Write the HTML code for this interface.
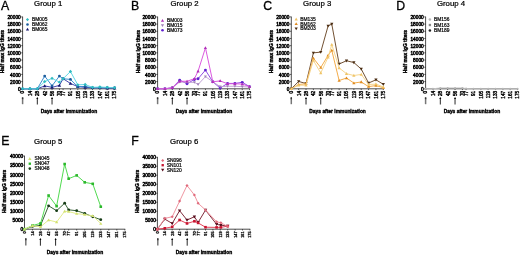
<!DOCTYPE html>
<html><head><meta charset="utf-8"><style>
html,body{margin:0;padding:0;background:#fff;width:520px;height:255px;overflow:hidden}
svg{display:block;will-change:transform}
text{font-family:"Liberation Sans", sans-serif}
</style></head><body>
<svg width="520" height="255" viewBox="0 0 520 255">
<rect width="520" height="255" fill="#fff"/>
<g>
<text x="0.9" y="10.2" font-size="12.3" font-weight="normal" text-anchor="start" fill="#000" stroke="#000" stroke-width="0.3">A</text>
<text x="34.1" y="5.8" font-size="7.8" font-weight="normal" text-anchor="start" fill="#000" stroke="#000" stroke-width="0.22">Group 1</text>
<text x="3.8" y="51.6" font-size="4.9" font-weight="bold" text-anchor="middle" fill="#000" transform="rotate(-90 3.8 51.6)" stroke="#000" stroke-width="0.38">Half max IgG titers</text>
<path d="M22.6 16.6V88.8H115" fill="none" stroke="#000" stroke-width="0.7"/>
<path d="M21.2 88.8H22.6" stroke="#000" stroke-width="0.6"/>
<text x="20.7" y="91" font-size="4.75" font-weight="normal" text-anchor="end" fill="#000" stroke="#000" stroke-width="0.46">0</text>
<path d="M21.2 81.61H22.6" stroke="#000" stroke-width="0.6"/>
<text x="20.7" y="83.81" font-size="4.75" font-weight="normal" text-anchor="end" fill="#000" stroke="#000" stroke-width="0.46">2000</text>
<path d="M21.2 74.42H22.6" stroke="#000" stroke-width="0.6"/>
<text x="20.7" y="76.62" font-size="4.75" font-weight="normal" text-anchor="end" fill="#000" stroke="#000" stroke-width="0.46">4000</text>
<path d="M21.2 67.23H22.6" stroke="#000" stroke-width="0.6"/>
<text x="20.7" y="69.43" font-size="4.75" font-weight="normal" text-anchor="end" fill="#000" stroke="#000" stroke-width="0.46">6000</text>
<path d="M21.2 60.04H22.6" stroke="#000" stroke-width="0.6"/>
<text x="20.7" y="62.24" font-size="4.75" font-weight="normal" text-anchor="end" fill="#000" stroke="#000" stroke-width="0.46">8000</text>
<path d="M21.2 52.85H22.6" stroke="#000" stroke-width="0.6"/>
<text x="20.7" y="55.05" font-size="4.75" font-weight="normal" text-anchor="end" fill="#000" stroke="#000" stroke-width="0.46">10000</text>
<path d="M21.2 45.66H22.6" stroke="#000" stroke-width="0.6"/>
<text x="20.7" y="47.86" font-size="4.75" font-weight="normal" text-anchor="end" fill="#000" stroke="#000" stroke-width="0.46">12000</text>
<path d="M21.2 38.47H22.6" stroke="#000" stroke-width="0.6"/>
<text x="20.7" y="40.67" font-size="4.75" font-weight="normal" text-anchor="end" fill="#000" stroke="#000" stroke-width="0.46">14000</text>
<path d="M21.2 31.28H22.6" stroke="#000" stroke-width="0.6"/>
<text x="20.7" y="33.48" font-size="4.75" font-weight="normal" text-anchor="end" fill="#000" stroke="#000" stroke-width="0.46">16000</text>
<path d="M21.2 24.09H22.6" stroke="#000" stroke-width="0.6"/>
<text x="20.7" y="26.29" font-size="4.75" font-weight="normal" text-anchor="end" fill="#000" stroke="#000" stroke-width="0.46">18000</text>
<path d="M21.2 16.9H22.6" stroke="#000" stroke-width="0.6"/>
<text x="20.7" y="19.1" font-size="4.75" font-weight="normal" text-anchor="end" fill="#000" stroke="#000" stroke-width="0.46">20000</text>
<path d="M22.6 88.8V90.1" stroke="#000" stroke-width="0.6"/>
<text x="24.5" y="90.8" font-size="4.7" font-weight="normal" text-anchor="end" fill="#000" transform="rotate(-90 24.5 90.8)" stroke="#000" stroke-width="0.38">0</text>
<path d="M29.96 88.8V90.1" stroke="#000" stroke-width="0.6"/>
<text x="31.86" y="90.8" font-size="4.7" font-weight="normal" text-anchor="end" fill="#000" transform="rotate(-90 31.86 90.8)" stroke="#000" stroke-width="0.38">14</text>
<path d="M37.32 88.8V90.1" stroke="#000" stroke-width="0.6"/>
<text x="39.22" y="90.8" font-size="4.7" font-weight="normal" text-anchor="end" fill="#000" transform="rotate(-90 39.22 90.8)" stroke="#000" stroke-width="0.38">28</text>
<path d="M44.68 88.8V90.1" stroke="#000" stroke-width="0.6"/>
<text x="46.58" y="90.8" font-size="4.7" font-weight="normal" text-anchor="end" fill="#000" transform="rotate(-90 46.58 90.8)" stroke="#000" stroke-width="0.38">42</text>
<path d="M52.04 88.8V90.1" stroke="#000" stroke-width="0.6"/>
<text x="53.94" y="90.8" font-size="4.7" font-weight="normal" text-anchor="end" fill="#000" transform="rotate(-90 53.94 90.8)" stroke="#000" stroke-width="0.38">56</text>
<path d="M59.4 88.8V90.1" stroke="#000" stroke-width="0.6"/>
<text x="61.3" y="90.8" font-size="4.7" font-weight="normal" text-anchor="end" fill="#000" transform="rotate(-90 61.3 90.8)" stroke="#000" stroke-width="0.38">70</text>
<path d="M63.08 88.8V90.1" stroke="#000" stroke-width="0.6"/>
<text x="64.98" y="90.8" font-size="4.7" font-weight="normal" text-anchor="end" fill="#000" transform="rotate(-90 64.98 90.8)" stroke="#000" stroke-width="0.38">77</text>
<path d="M70.44 88.8V90.1" stroke="#000" stroke-width="0.6"/>
<text x="72.34" y="90.8" font-size="4.7" font-weight="normal" text-anchor="end" fill="#000" transform="rotate(-90 72.34 90.8)" stroke="#000" stroke-width="0.38">91</text>
<path d="M77.8 88.8V90.1" stroke="#000" stroke-width="0.6"/>
<text x="79.7" y="90.8" font-size="4.7" font-weight="normal" text-anchor="end" fill="#000" transform="rotate(-90 79.7 90.8)" stroke="#000" stroke-width="0.38">105</text>
<path d="M85.16 88.8V90.1" stroke="#000" stroke-width="0.6"/>
<text x="87.06" y="90.8" font-size="4.7" font-weight="normal" text-anchor="end" fill="#000" transform="rotate(-90 87.06 90.8)" stroke="#000" stroke-width="0.38">119</text>
<path d="M92.52 88.8V90.1" stroke="#000" stroke-width="0.6"/>
<text x="94.42" y="90.8" font-size="4.7" font-weight="normal" text-anchor="end" fill="#000" transform="rotate(-90 94.42 90.8)" stroke="#000" stroke-width="0.38">133</text>
<path d="M99.88 88.8V90.1" stroke="#000" stroke-width="0.6"/>
<text x="101.78" y="90.8" font-size="4.7" font-weight="normal" text-anchor="end" fill="#000" transform="rotate(-90 101.78 90.8)" stroke="#000" stroke-width="0.38">147</text>
<path d="M107.24 88.8V90.1" stroke="#000" stroke-width="0.6"/>
<text x="109.14" y="90.8" font-size="4.7" font-weight="normal" text-anchor="end" fill="#000" transform="rotate(-90 109.14 90.8)" stroke="#000" stroke-width="0.38">161</text>
<path d="M114.6 88.8V90.1" stroke="#000" stroke-width="0.6"/>
<text x="116.5" y="90.8" font-size="4.7" font-weight="normal" text-anchor="end" fill="#000" transform="rotate(-90 116.5 90.8)" stroke="#000" stroke-width="0.38">175</text>
<path d="M22.6 97.6V104.2" stroke="#777" stroke-width="1.5"/>
<path d="M22.6 97.3V99.2" stroke="#333" stroke-width="1.4"/>
<path d="M37.32 97.8V104.5" stroke="#000" stroke-width="0.85"/>
<path d="M36.32 99L37.32 97L38.32 99Z" fill="#000"/>
<path d="M52.04 97.8V104.5" stroke="#000" stroke-width="0.85"/>
<path d="M51.04 99L52.04 97L53.04 99Z" fill="#000"/>
<text x="68.9" y="113.1" font-size="4.9" font-weight="bold" text-anchor="middle" fill="#000" stroke="#000" stroke-width="0.34">Days after immunization</text>
<path d="M22.6 88.8 L29.96 88.8 L37.32 88.8 L44.68 85.92 L52.04 87.36 L59.4 85.38 L63.08 78.73 L70.44 83.41 L77.8 86.64 L85.16 87.36 L92.52 87.72 L99.88 87.72 L107.24 88.08 L114.6 88.08" fill="none" stroke="#3a3aa8" stroke-width="0.95" stroke-linejoin="round"/>
<path d="M22.6 87.05L24.35 90.11L20.85 90.11Z" fill="#161670"/>
<path d="M29.96 87.05L31.71 90.11L28.21 90.11Z" fill="#161670"/>
<path d="M37.32 87.05L39.07 90.11L35.57 90.11Z" fill="#161670"/>
<path d="M44.68 84.17L46.43 87.24L42.93 87.24Z" fill="#161670"/>
<path d="M52.04 85.61L53.79 88.67L50.29 88.67Z" fill="#161670"/>
<path d="M59.4 83.63L61.15 86.7L57.65 86.7Z" fill="#161670"/>
<path d="M63.08 76.98L64.83 80.05L61.33 80.05Z" fill="#161670"/>
<path d="M70.44 81.66L72.19 84.72L68.69 84.72Z" fill="#161670"/>
<path d="M77.8 84.89L79.55 87.96L76.05 87.96Z" fill="#161670"/>
<path d="M85.16 85.61L86.91 88.67L83.41 88.67Z" fill="#161670"/>
<path d="M92.52 85.97L94.27 89.03L90.77 89.03Z" fill="#161670"/>
<path d="M99.88 85.97L101.63 89.03L98.13 89.03Z" fill="#161670"/>
<path d="M107.24 86.33L108.99 89.39L105.49 89.39Z" fill="#161670"/>
<path d="M114.6 86.33L116.35 89.39L112.85 89.39Z" fill="#161670"/>
<path d="M22.6 88.8 L29.96 88.8 L37.32 88.8 L44.68 76.04 L52.04 85.92 L59.4 76.04 L63.08 78.73 L70.44 79.45 L77.8 86.64 L85.16 86.46 L92.52 87.72 L99.88 87.72 L107.24 87.72 L114.6 87.72" fill="none" stroke="#3388cc" stroke-width="0.95" stroke-linejoin="round"/>
<circle cx="22.6" cy="88.8" r="1.4" fill="#1c5c9c"/>
<circle cx="29.96" cy="88.8" r="1.4" fill="#1c5c9c"/>
<circle cx="37.32" cy="88.8" r="1.4" fill="#1c5c9c"/>
<circle cx="44.68" cy="76.04" r="1.4" fill="#1c5c9c"/>
<circle cx="52.04" cy="85.92" r="1.4" fill="#1c5c9c"/>
<circle cx="59.4" cy="76.04" r="1.4" fill="#1c5c9c"/>
<circle cx="63.08" cy="78.73" r="1.4" fill="#1c5c9c"/>
<circle cx="70.44" cy="79.45" r="1.4" fill="#1c5c9c"/>
<circle cx="77.8" cy="86.64" r="1.4" fill="#1c5c9c"/>
<circle cx="85.16" cy="86.46" r="1.4" fill="#1c5c9c"/>
<circle cx="92.52" cy="87.72" r="1.4" fill="#1c5c9c"/>
<circle cx="99.88" cy="87.72" r="1.4" fill="#1c5c9c"/>
<circle cx="107.24" cy="87.72" r="1.4" fill="#1c5c9c"/>
<circle cx="114.6" cy="87.72" r="1.4" fill="#1c5c9c"/>
<path d="M22.6 88.8 L29.96 88.8 L37.32 88.8 L44.68 81.61 L52.04 78.37 L59.4 82.15 L63.08 78.73 L70.44 71.54 L77.8 84.85 L85.16 84.49 L92.52 87.36 L99.88 87 L107.24 87.36 L114.6 87.72" fill="none" stroke="#5cd6e4" stroke-width="0.95" stroke-linejoin="round"/>
<path d="M22.6 87.12L24.28 88.8L22.6 90.48L20.92 88.8Z" fill="#30bcc0"/>
<path d="M29.96 87.12L31.64 88.8L29.96 90.48L28.28 88.8Z" fill="#30bcc0"/>
<path d="M37.32 87.12L39 88.8L37.32 90.48L35.64 88.8Z" fill="#30bcc0"/>
<path d="M44.68 79.93L46.36 81.61L44.68 83.29L43 81.61Z" fill="#30bcc0"/>
<path d="M52.04 76.69L53.72 78.37L52.04 80.05L50.36 78.37Z" fill="#30bcc0"/>
<path d="M59.4 80.47L61.08 82.15L59.4 83.83L57.72 82.15Z" fill="#30bcc0"/>
<path d="M63.08 77.05L64.76 78.73L63.08 80.41L61.4 78.73Z" fill="#30bcc0"/>
<path d="M70.44 69.86L72.12 71.54L70.44 73.22L68.76 71.54Z" fill="#30bcc0"/>
<path d="M77.8 83.17L79.48 84.85L77.8 86.53L76.12 84.85Z" fill="#30bcc0"/>
<path d="M85.16 82.81L86.84 84.49L85.16 86.17L83.48 84.49Z" fill="#30bcc0"/>
<path d="M92.52 85.68L94.2 87.36L92.52 89.04L90.84 87.36Z" fill="#30bcc0"/>
<path d="M99.88 85.32L101.56 87L99.88 88.68L98.2 87Z" fill="#30bcc0"/>
<path d="M107.24 85.68L108.92 87.36L107.24 89.04L105.56 87.36Z" fill="#30bcc0"/>
<path d="M114.6 86.04L116.28 87.72L114.6 89.4L112.92 87.72Z" fill="#30bcc0"/>
<path d="M27.5 18.04L29.06 19.6L27.5 21.16L25.94 19.6Z" fill="#30bcc0"/>
<text x="31.9" y="21.35" font-size="4.9" font-weight="normal" text-anchor="start" fill="#000" stroke="#111" stroke-width="0.22">BM005</text>
<circle cx="27.5" cy="24.5" r="1.3" fill="#1c5c9c"/>
<text x="31.9" y="26.25" font-size="4.9" font-weight="normal" text-anchor="start" fill="#000" stroke="#111" stroke-width="0.22">BM062</text>
<path d="M27.5 27.68L29.12 30.52L25.88 30.52Z" fill="#161670"/>
<text x="31.9" y="31.05" font-size="4.9" font-weight="normal" text-anchor="start" fill="#000" stroke="#111" stroke-width="0.22">BM065</text>
</g>
<g>
<text x="130.9" y="10.2" font-size="12.3" font-weight="normal" text-anchor="start" fill="#000" stroke="#000" stroke-width="0.3">B</text>
<text x="170.4" y="5.8" font-size="7.8" font-weight="normal" text-anchor="start" fill="#000" stroke="#000" stroke-width="0.22">Group 2</text>
<text x="139.8" y="51.6" font-size="4.9" font-weight="bold" text-anchor="middle" fill="#000" transform="rotate(-90 139.8 51.6)" stroke="#000" stroke-width="0.38">Half max IgG titers</text>
<path d="M157.6 16.6V88.8H250" fill="none" stroke="#000" stroke-width="0.7"/>
<path d="M156.2 88.8H157.6" stroke="#000" stroke-width="0.6"/>
<text x="155.7" y="91" font-size="4.75" font-weight="normal" text-anchor="end" fill="#000" stroke="#000" stroke-width="0.46">0</text>
<path d="M156.2 81.61H157.6" stroke="#000" stroke-width="0.6"/>
<text x="155.7" y="83.81" font-size="4.75" font-weight="normal" text-anchor="end" fill="#000" stroke="#000" stroke-width="0.46">2000</text>
<path d="M156.2 74.42H157.6" stroke="#000" stroke-width="0.6"/>
<text x="155.7" y="76.62" font-size="4.75" font-weight="normal" text-anchor="end" fill="#000" stroke="#000" stroke-width="0.46">4000</text>
<path d="M156.2 67.23H157.6" stroke="#000" stroke-width="0.6"/>
<text x="155.7" y="69.43" font-size="4.75" font-weight="normal" text-anchor="end" fill="#000" stroke="#000" stroke-width="0.46">6000</text>
<path d="M156.2 60.04H157.6" stroke="#000" stroke-width="0.6"/>
<text x="155.7" y="62.24" font-size="4.75" font-weight="normal" text-anchor="end" fill="#000" stroke="#000" stroke-width="0.46">8000</text>
<path d="M156.2 52.85H157.6" stroke="#000" stroke-width="0.6"/>
<text x="155.7" y="55.05" font-size="4.75" font-weight="normal" text-anchor="end" fill="#000" stroke="#000" stroke-width="0.46">10000</text>
<path d="M156.2 45.66H157.6" stroke="#000" stroke-width="0.6"/>
<text x="155.7" y="47.86" font-size="4.75" font-weight="normal" text-anchor="end" fill="#000" stroke="#000" stroke-width="0.46">12000</text>
<path d="M156.2 38.47H157.6" stroke="#000" stroke-width="0.6"/>
<text x="155.7" y="40.67" font-size="4.75" font-weight="normal" text-anchor="end" fill="#000" stroke="#000" stroke-width="0.46">14000</text>
<path d="M156.2 31.28H157.6" stroke="#000" stroke-width="0.6"/>
<text x="155.7" y="33.48" font-size="4.75" font-weight="normal" text-anchor="end" fill="#000" stroke="#000" stroke-width="0.46">16000</text>
<path d="M156.2 24.09H157.6" stroke="#000" stroke-width="0.6"/>
<text x="155.7" y="26.29" font-size="4.75" font-weight="normal" text-anchor="end" fill="#000" stroke="#000" stroke-width="0.46">18000</text>
<path d="M156.2 16.9H157.6" stroke="#000" stroke-width="0.6"/>
<text x="155.7" y="19.1" font-size="4.75" font-weight="normal" text-anchor="end" fill="#000" stroke="#000" stroke-width="0.46">20000</text>
<path d="M157.6 88.8V90.1" stroke="#000" stroke-width="0.6"/>
<text x="159.5" y="90.8" font-size="4.7" font-weight="normal" text-anchor="end" fill="#000" transform="rotate(-90 159.5 90.8)" stroke="#000" stroke-width="0.38">0</text>
<path d="M164.96 88.8V90.1" stroke="#000" stroke-width="0.6"/>
<text x="166.86" y="90.8" font-size="4.7" font-weight="normal" text-anchor="end" fill="#000" transform="rotate(-90 166.86 90.8)" stroke="#000" stroke-width="0.38">14</text>
<path d="M172.32 88.8V90.1" stroke="#000" stroke-width="0.6"/>
<text x="174.22" y="90.8" font-size="4.7" font-weight="normal" text-anchor="end" fill="#000" transform="rotate(-90 174.22 90.8)" stroke="#000" stroke-width="0.38">28</text>
<path d="M179.68 88.8V90.1" stroke="#000" stroke-width="0.6"/>
<text x="181.58" y="90.8" font-size="4.7" font-weight="normal" text-anchor="end" fill="#000" transform="rotate(-90 181.58 90.8)" stroke="#000" stroke-width="0.38">42</text>
<path d="M187.04 88.8V90.1" stroke="#000" stroke-width="0.6"/>
<text x="188.94" y="90.8" font-size="4.7" font-weight="normal" text-anchor="end" fill="#000" transform="rotate(-90 188.94 90.8)" stroke="#000" stroke-width="0.38">56</text>
<path d="M194.4 88.8V90.1" stroke="#000" stroke-width="0.6"/>
<text x="196.3" y="90.8" font-size="4.7" font-weight="normal" text-anchor="end" fill="#000" transform="rotate(-90 196.3 90.8)" stroke="#000" stroke-width="0.38">70</text>
<path d="M198.08 88.8V90.1" stroke="#000" stroke-width="0.6"/>
<text x="199.98" y="90.8" font-size="4.7" font-weight="normal" text-anchor="end" fill="#000" transform="rotate(-90 199.98 90.8)" stroke="#000" stroke-width="0.38">77</text>
<path d="M205.44 88.8V90.1" stroke="#000" stroke-width="0.6"/>
<text x="207.34" y="90.8" font-size="4.7" font-weight="normal" text-anchor="end" fill="#000" transform="rotate(-90 207.34 90.8)" stroke="#000" stroke-width="0.38">91</text>
<path d="M212.8 88.8V90.1" stroke="#000" stroke-width="0.6"/>
<text x="214.7" y="90.8" font-size="4.7" font-weight="normal" text-anchor="end" fill="#000" transform="rotate(-90 214.7 90.8)" stroke="#000" stroke-width="0.38">105</text>
<path d="M220.16 88.8V90.1" stroke="#000" stroke-width="0.6"/>
<text x="222.06" y="90.8" font-size="4.7" font-weight="normal" text-anchor="end" fill="#000" transform="rotate(-90 222.06 90.8)" stroke="#000" stroke-width="0.38">119</text>
<path d="M227.52 88.8V90.1" stroke="#000" stroke-width="0.6"/>
<text x="229.42" y="90.8" font-size="4.7" font-weight="normal" text-anchor="end" fill="#000" transform="rotate(-90 229.42 90.8)" stroke="#000" stroke-width="0.38">133</text>
<path d="M234.88 88.8V90.1" stroke="#000" stroke-width="0.6"/>
<text x="236.78" y="90.8" font-size="4.7" font-weight="normal" text-anchor="end" fill="#000" transform="rotate(-90 236.78 90.8)" stroke="#000" stroke-width="0.38">147</text>
<path d="M242.24 88.8V90.1" stroke="#000" stroke-width="0.6"/>
<text x="244.14" y="90.8" font-size="4.7" font-weight="normal" text-anchor="end" fill="#000" transform="rotate(-90 244.14 90.8)" stroke="#000" stroke-width="0.38">161</text>
<path d="M249.6 88.8V90.1" stroke="#000" stroke-width="0.6"/>
<text x="251.5" y="90.8" font-size="4.7" font-weight="normal" text-anchor="end" fill="#000" transform="rotate(-90 251.5 90.8)" stroke="#000" stroke-width="0.38">175</text>
<path d="M157.6 97.6V104.2" stroke="#777" stroke-width="1.5"/>
<path d="M157.6 97.3V99.2" stroke="#333" stroke-width="1.4"/>
<path d="M172.32 97.8V104.5" stroke="#000" stroke-width="0.85"/>
<path d="M171.32 99L172.32 97L173.32 99Z" fill="#000"/>
<path d="M187.04 97.8V104.5" stroke="#000" stroke-width="0.85"/>
<path d="M186.04 99L187.04 97L188.04 99Z" fill="#000"/>
<text x="203.9" y="113.1" font-size="4.9" font-weight="bold" text-anchor="middle" fill="#000" stroke="#000" stroke-width="0.34">Days after immunization</text>
<path d="M157.6 88.8 L164.96 88.8 L172.32 87.72 L179.68 80.17 L187.04 83.77 L194.4 79.45 L198.08 78.73 L205.44 70.11 L212.8 81.79 L220.16 88.08 L227.52 83.41 L234.88 83.41 L242.24 82.33 L249.6 86.64" fill="none" stroke="#8a44e0" stroke-width="0.95" stroke-linejoin="round"/>
<circle cx="157.6" cy="88.8" r="1.45" fill="#6020d0"/>
<circle cx="164.96" cy="88.8" r="1.45" fill="#6020d0"/>
<circle cx="172.32" cy="87.72" r="1.45" fill="#6020d0"/>
<circle cx="179.68" cy="80.17" r="1.45" fill="#6020d0"/>
<circle cx="187.04" cy="83.77" r="1.45" fill="#6020d0"/>
<circle cx="194.4" cy="79.45" r="1.45" fill="#6020d0"/>
<circle cx="198.08" cy="78.73" r="1.45" fill="#6020d0"/>
<circle cx="205.44" cy="70.11" r="1.45" fill="#6020d0"/>
<circle cx="212.8" cy="81.79" r="1.45" fill="#6020d0"/>
<circle cx="220.16" cy="88.08" r="1.45" fill="#6020d0"/>
<circle cx="227.52" cy="83.41" r="1.45" fill="#6020d0"/>
<circle cx="234.88" cy="83.41" r="1.45" fill="#6020d0"/>
<circle cx="242.24" cy="82.33" r="1.45" fill="#6020d0"/>
<circle cx="249.6" cy="86.64" r="1.45" fill="#6020d0"/>
<path d="M157.6 88.8 L164.96 88.8 L172.32 87.72 L179.68 81.97 L187.04 82.33 L194.4 82.33 L198.08 84.49 L205.44 76.58 L212.8 81.79 L220.16 86.64 L227.52 86.28 L234.88 86.28 L242.24 86.64 L249.6 87" fill="none" stroke="#c0a0d4" stroke-width="0.95" stroke-linejoin="round"/>
<path d="M157.6 90.3L159.1 87.67L156.1 87.67Z" fill="#a080b8"/>
<path d="M164.96 90.3L166.46 87.67L163.46 87.67Z" fill="#a080b8"/>
<path d="M172.32 89.22L173.82 86.6L170.82 86.6Z" fill="#a080b8"/>
<path d="M179.68 83.47L181.18 80.84L178.18 80.84Z" fill="#a080b8"/>
<path d="M187.04 83.83L188.54 81.2L185.54 81.2Z" fill="#a080b8"/>
<path d="M194.4 83.83L195.9 81.2L192.9 81.2Z" fill="#a080b8"/>
<path d="M198.08 85.99L199.58 83.36L196.58 83.36Z" fill="#a080b8"/>
<path d="M205.44 78.08L206.94 75.45L203.94 75.45Z" fill="#a080b8"/>
<path d="M212.8 83.29L214.3 80.66L211.3 80.66Z" fill="#a080b8"/>
<path d="M220.16 88.14L221.66 85.52L218.66 85.52Z" fill="#a080b8"/>
<path d="M227.52 87.78L229.02 85.16L226.02 85.16Z" fill="#a080b8"/>
<path d="M234.88 87.78L236.38 85.16L233.38 85.16Z" fill="#a080b8"/>
<path d="M242.24 88.14L243.74 85.52L240.74 85.52Z" fill="#a080b8"/>
<path d="M249.6 88.5L251.1 85.88L248.1 85.88Z" fill="#a080b8"/>
<path d="M157.6 88.8 L164.96 88.8 L172.32 87.72 L179.68 81.25 L187.04 81.25 L194.4 78.73 L198.08 71.18 L205.44 47.82 L212.8 81.79 L220.16 80.89 L227.52 83.77 L234.88 83.77 L242.24 84.13 L249.6 86.64" fill="none" stroke="#d850dc" stroke-width="0.95" stroke-linejoin="round"/>
<path d="M157.6 87.17L159.22 90.02L155.97 90.02Z" fill="#b030b8"/>
<path d="M164.96 87.17L166.58 90.02L163.33 90.02Z" fill="#b030b8"/>
<path d="M172.32 86.1L173.94 88.94L170.69 88.94Z" fill="#b030b8"/>
<path d="M179.68 79.63L181.3 82.47L178.05 82.47Z" fill="#b030b8"/>
<path d="M187.04 79.63L188.66 82.47L185.41 82.47Z" fill="#b030b8"/>
<path d="M194.4 77.11L196.02 79.95L192.77 79.95Z" fill="#b030b8"/>
<path d="M198.08 69.56L199.7 72.4L196.45 72.4Z" fill="#b030b8"/>
<path d="M205.44 46.19L207.06 49.04L203.81 49.04Z" fill="#b030b8"/>
<path d="M212.8 80.16L214.42 83.01L211.17 83.01Z" fill="#b030b8"/>
<path d="M220.16 79.27L221.78 82.11L218.53 82.11Z" fill="#b030b8"/>
<path d="M227.52 82.14L229.14 84.99L225.89 84.99Z" fill="#b030b8"/>
<path d="M234.88 82.14L236.5 84.99L233.25 84.99Z" fill="#b030b8"/>
<path d="M242.24 82.5L243.86 85.35L240.61 85.35Z" fill="#b030b8"/>
<path d="M249.6 85.02L251.22 87.86L247.97 87.86Z" fill="#b030b8"/>
<path d="M162.5 18.98L164.12 21.82L160.88 21.82Z" fill="#b030b8"/>
<text x="166.9" y="22.35" font-size="4.9" font-weight="normal" text-anchor="start" fill="#000" stroke="#111" stroke-width="0.22">BM003</text>
<path d="M162.5 27.12L164.12 24.28L160.88 24.28Z" fill="#a080b8"/>
<text x="166.9" y="27.25" font-size="4.9" font-weight="normal" text-anchor="start" fill="#000" stroke="#111" stroke-width="0.22">BM015</text>
<circle cx="162.5" cy="30.2" r="1.3" fill="#6020d0"/>
<text x="166.9" y="31.95" font-size="4.9" font-weight="normal" text-anchor="start" fill="#000" stroke="#111" stroke-width="0.22">BM073</text>
</g>
<g>
<text x="263.3" y="10.2" font-size="12.3" font-weight="normal" text-anchor="start" fill="#000" stroke="#000" stroke-width="0.3">C</text>
<text x="303.1" y="5.8" font-size="7.8" font-weight="normal" text-anchor="start" fill="#000" stroke="#000" stroke-width="0.22">Group 3</text>
<text x="272.8" y="51.6" font-size="4.9" font-weight="bold" text-anchor="middle" fill="#000" transform="rotate(-90 272.8 51.6)" stroke="#000" stroke-width="0.38">Half max IgG titers</text>
<path d="M291.3 16.6V88.8H383.7" fill="none" stroke="#000" stroke-width="0.7"/>
<path d="M289.9 88.8H291.3" stroke="#000" stroke-width="0.6"/>
<text x="289.4" y="91" font-size="4.75" font-weight="normal" text-anchor="end" fill="#000" stroke="#000" stroke-width="0.46">0</text>
<path d="M289.9 81.61H291.3" stroke="#000" stroke-width="0.6"/>
<text x="289.4" y="83.81" font-size="4.75" font-weight="normal" text-anchor="end" fill="#000" stroke="#000" stroke-width="0.46">2000</text>
<path d="M289.9 74.42H291.3" stroke="#000" stroke-width="0.6"/>
<text x="289.4" y="76.62" font-size="4.75" font-weight="normal" text-anchor="end" fill="#000" stroke="#000" stroke-width="0.46">4000</text>
<path d="M289.9 67.23H291.3" stroke="#000" stroke-width="0.6"/>
<text x="289.4" y="69.43" font-size="4.75" font-weight="normal" text-anchor="end" fill="#000" stroke="#000" stroke-width="0.46">6000</text>
<path d="M289.9 60.04H291.3" stroke="#000" stroke-width="0.6"/>
<text x="289.4" y="62.24" font-size="4.75" font-weight="normal" text-anchor="end" fill="#000" stroke="#000" stroke-width="0.46">8000</text>
<path d="M289.9 52.85H291.3" stroke="#000" stroke-width="0.6"/>
<text x="289.4" y="55.05" font-size="4.75" font-weight="normal" text-anchor="end" fill="#000" stroke="#000" stroke-width="0.46">10000</text>
<path d="M289.9 45.66H291.3" stroke="#000" stroke-width="0.6"/>
<text x="289.4" y="47.86" font-size="4.75" font-weight="normal" text-anchor="end" fill="#000" stroke="#000" stroke-width="0.46">12000</text>
<path d="M289.9 38.47H291.3" stroke="#000" stroke-width="0.6"/>
<text x="289.4" y="40.67" font-size="4.75" font-weight="normal" text-anchor="end" fill="#000" stroke="#000" stroke-width="0.46">14000</text>
<path d="M289.9 31.28H291.3" stroke="#000" stroke-width="0.6"/>
<text x="289.4" y="33.48" font-size="4.75" font-weight="normal" text-anchor="end" fill="#000" stroke="#000" stroke-width="0.46">16000</text>
<path d="M289.9 24.09H291.3" stroke="#000" stroke-width="0.6"/>
<text x="289.4" y="26.29" font-size="4.75" font-weight="normal" text-anchor="end" fill="#000" stroke="#000" stroke-width="0.46">18000</text>
<path d="M289.9 16.9H291.3" stroke="#000" stroke-width="0.6"/>
<text x="289.4" y="19.1" font-size="4.75" font-weight="normal" text-anchor="end" fill="#000" stroke="#000" stroke-width="0.46">20000</text>
<path d="M291.3 88.8V90.1" stroke="#000" stroke-width="0.6"/>
<text x="293.2" y="90.8" font-size="4.7" font-weight="normal" text-anchor="end" fill="#000" transform="rotate(-90 293.2 90.8)" stroke="#000" stroke-width="0.38">0</text>
<path d="M298.66 88.8V90.1" stroke="#000" stroke-width="0.6"/>
<text x="300.56" y="90.8" font-size="4.7" font-weight="normal" text-anchor="end" fill="#000" transform="rotate(-90 300.56 90.8)" stroke="#000" stroke-width="0.38">14</text>
<path d="M306.02 88.8V90.1" stroke="#000" stroke-width="0.6"/>
<text x="307.92" y="90.8" font-size="4.7" font-weight="normal" text-anchor="end" fill="#000" transform="rotate(-90 307.92 90.8)" stroke="#000" stroke-width="0.38">28</text>
<path d="M313.38 88.8V90.1" stroke="#000" stroke-width="0.6"/>
<text x="315.28" y="90.8" font-size="4.7" font-weight="normal" text-anchor="end" fill="#000" transform="rotate(-90 315.28 90.8)" stroke="#000" stroke-width="0.38">42</text>
<path d="M320.74 88.8V90.1" stroke="#000" stroke-width="0.6"/>
<text x="322.64" y="90.8" font-size="4.7" font-weight="normal" text-anchor="end" fill="#000" transform="rotate(-90 322.64 90.8)" stroke="#000" stroke-width="0.38">56</text>
<path d="M328.1 88.8V90.1" stroke="#000" stroke-width="0.6"/>
<text x="330" y="90.8" font-size="4.7" font-weight="normal" text-anchor="end" fill="#000" transform="rotate(-90 330 90.8)" stroke="#000" stroke-width="0.38">70</text>
<path d="M331.78 88.8V90.1" stroke="#000" stroke-width="0.6"/>
<text x="333.68" y="90.8" font-size="4.7" font-weight="normal" text-anchor="end" fill="#000" transform="rotate(-90 333.68 90.8)" stroke="#000" stroke-width="0.38">77</text>
<path d="M339.14 88.8V90.1" stroke="#000" stroke-width="0.6"/>
<text x="341.04" y="90.8" font-size="4.7" font-weight="normal" text-anchor="end" fill="#000" transform="rotate(-90 341.04 90.8)" stroke="#000" stroke-width="0.38">91</text>
<path d="M346.5 88.8V90.1" stroke="#000" stroke-width="0.6"/>
<text x="348.4" y="90.8" font-size="4.7" font-weight="normal" text-anchor="end" fill="#000" transform="rotate(-90 348.4 90.8)" stroke="#000" stroke-width="0.38">105</text>
<path d="M353.86 88.8V90.1" stroke="#000" stroke-width="0.6"/>
<text x="355.76" y="90.8" font-size="4.7" font-weight="normal" text-anchor="end" fill="#000" transform="rotate(-90 355.76 90.8)" stroke="#000" stroke-width="0.38">119</text>
<path d="M361.22 88.8V90.1" stroke="#000" stroke-width="0.6"/>
<text x="363.12" y="90.8" font-size="4.7" font-weight="normal" text-anchor="end" fill="#000" transform="rotate(-90 363.12 90.8)" stroke="#000" stroke-width="0.38">133</text>
<path d="M368.58 88.8V90.1" stroke="#000" stroke-width="0.6"/>
<text x="370.48" y="90.8" font-size="4.7" font-weight="normal" text-anchor="end" fill="#000" transform="rotate(-90 370.48 90.8)" stroke="#000" stroke-width="0.38">147</text>
<path d="M375.94 88.8V90.1" stroke="#000" stroke-width="0.6"/>
<text x="377.84" y="90.8" font-size="4.7" font-weight="normal" text-anchor="end" fill="#000" transform="rotate(-90 377.84 90.8)" stroke="#000" stroke-width="0.38">161</text>
<path d="M383.3 88.8V90.1" stroke="#000" stroke-width="0.6"/>
<text x="385.2" y="90.8" font-size="4.7" font-weight="normal" text-anchor="end" fill="#000" transform="rotate(-90 385.2 90.8)" stroke="#000" stroke-width="0.38">175</text>
<path d="M291.3 97.6V104.2" stroke="#777" stroke-width="1.5"/>
<path d="M291.3 97.3V99.2" stroke="#333" stroke-width="1.4"/>
<path d="M306.02 97.8V104.5" stroke="#000" stroke-width="0.85"/>
<path d="M305.02 99L306.02 97L307.02 99Z" fill="#000"/>
<path d="M320.74 97.8V104.5" stroke="#000" stroke-width="0.85"/>
<path d="M319.74 99L320.74 97L321.74 99Z" fill="#000"/>
<text x="337.6" y="113.1" font-size="4.9" font-weight="bold" text-anchor="middle" fill="#000" stroke="#000" stroke-width="0.34">Days after immunization</text>
<path d="M291.3 88.8 L298.66 81.43 L306.02 83.59 L313.38 52.85 L320.74 52.13 L328.1 25.89 L331.78 24.09 L339.14 63.99 L346.5 60.76 L353.86 62.56 L361.22 69.03 L368.58 83.05 L375.94 79.81 L383.3 84.31" fill="none" stroke="#6a4828" stroke-width="0.95" stroke-linejoin="round"/>
<path d="M291.3 90.42L292.93 87.58L289.68 87.58Z" fill="#4a2c12"/>
<path d="M298.66 83.06L300.28 80.21L297.03 80.21Z" fill="#4a2c12"/>
<path d="M306.02 85.21L307.64 82.37L304.39 82.37Z" fill="#4a2c12"/>
<path d="M313.38 54.47L315 51.63L311.75 51.63Z" fill="#4a2c12"/>
<path d="M320.74 53.76L322.36 50.91L319.11 50.91Z" fill="#4a2c12"/>
<path d="M328.1 27.51L329.72 24.67L326.47 24.67Z" fill="#4a2c12"/>
<path d="M331.78 25.71L333.4 22.87L330.15 22.87Z" fill="#4a2c12"/>
<path d="M339.14 65.62L340.76 62.78L337.51 62.78Z" fill="#4a2c12"/>
<path d="M346.5 62.38L348.12 59.54L344.87 59.54Z" fill="#4a2c12"/>
<path d="M353.86 64.18L355.48 61.34L352.23 61.34Z" fill="#4a2c12"/>
<path d="M361.22 70.65L362.84 67.81L359.59 67.81Z" fill="#4a2c12"/>
<path d="M368.58 84.67L370.2 81.83L366.95 81.83Z" fill="#4a2c12"/>
<path d="M375.94 81.44L377.56 78.59L374.31 78.59Z" fill="#4a2c12"/>
<path d="M383.3 85.93L384.92 83.09L381.67 83.09Z" fill="#4a2c12"/>
<path d="M291.3 88.8 L298.66 84.49 L306.02 83.77 L313.38 58.24 L320.74 67.59 L328.1 55.37 L331.78 50.33 L339.14 80.53 L346.5 78.02 L353.86 83.05 L361.22 81.97 L368.58 86.64 L375.94 85.56 L383.3 87.72" fill="none" stroke="#f2a840" stroke-width="0.95" stroke-linejoin="round"/>
<path d="M291.3 87.17L292.93 90.02L289.68 90.02Z" fill="#e08c20"/>
<path d="M298.66 82.86L300.28 85.7L297.03 85.7Z" fill="#e08c20"/>
<path d="M306.02 82.14L307.64 84.99L304.39 84.99Z" fill="#e08c20"/>
<path d="M313.38 56.62L315 59.46L311.75 59.46Z" fill="#e08c20"/>
<path d="M320.74 65.96L322.36 68.81L319.11 68.81Z" fill="#e08c20"/>
<path d="M328.1 53.74L329.72 56.59L326.47 56.59Z" fill="#e08c20"/>
<path d="M331.78 48.71L333.4 51.55L330.15 51.55Z" fill="#e08c20"/>
<path d="M339.14 78.91L340.76 81.75L337.51 81.75Z" fill="#e08c20"/>
<path d="M346.5 76.39L348.12 79.23L344.87 79.23Z" fill="#e08c20"/>
<path d="M353.86 81.42L355.48 84.27L352.23 84.27Z" fill="#e08c20"/>
<path d="M361.22 80.34L362.84 83.19L359.59 83.19Z" fill="#e08c20"/>
<path d="M368.58 85.02L370.2 87.86L366.95 87.86Z" fill="#e08c20"/>
<path d="M375.94 83.94L377.56 86.78L374.31 86.78Z" fill="#e08c20"/>
<path d="M383.3 86.1L384.92 88.94L381.67 88.94Z" fill="#e08c20"/>
<path d="M291.3 88.8 L298.66 85.2 L306.02 85.2 L313.38 60.4 L320.74 72.98 L328.1 57.16 L331.78 44.58 L339.14 67.95 L346.5 73.7 L353.86 75.5 L361.22 74.42 L368.58 84.49 L375.94 84.13 L383.3 87" fill="none" stroke="#f5d488" stroke-width="0.95" stroke-linejoin="round"/>
<path d="M291.3 87.17L292.93 90.02L289.68 90.02Z" fill="#efc468"/>
<path d="M298.66 83.58L300.28 86.42L297.03 86.42Z" fill="#efc468"/>
<path d="M306.02 83.58L307.64 86.42L304.39 86.42Z" fill="#efc468"/>
<path d="M313.38 58.77L315 61.62L311.75 61.62Z" fill="#efc468"/>
<path d="M320.74 71.36L322.36 74.2L319.11 74.2Z" fill="#efc468"/>
<path d="M328.1 55.54L329.72 58.38L326.47 58.38Z" fill="#efc468"/>
<path d="M331.78 42.96L333.4 45.8L330.15 45.8Z" fill="#efc468"/>
<path d="M339.14 66.32L340.76 69.17L337.51 69.17Z" fill="#efc468"/>
<path d="M346.5 72.08L348.12 74.92L344.87 74.92Z" fill="#efc468"/>
<path d="M353.86 73.87L355.48 76.72L352.23 76.72Z" fill="#efc468"/>
<path d="M361.22 72.79L362.84 75.64L359.59 75.64Z" fill="#efc468"/>
<path d="M368.58 82.86L370.2 85.7L366.95 85.7Z" fill="#efc468"/>
<path d="M375.94 82.5L377.56 85.35L374.31 85.35Z" fill="#efc468"/>
<path d="M383.3 85.38L384.92 88.22L381.67 88.22Z" fill="#efc468"/>
<path d="M296.2 17.57L297.82 20.42L294.57 20.42Z" fill="#efc468"/>
<text x="300.2" y="20.95" font-size="4.9" font-weight="normal" text-anchor="start" fill="#000" stroke="#111" stroke-width="0.22">BM135</text>
<path d="M296.2 22.27L297.82 25.12L294.57 25.12Z" fill="#e08c20"/>
<text x="300.2" y="25.65" font-size="4.9" font-weight="normal" text-anchor="start" fill="#000" stroke="#111" stroke-width="0.22">BM162</text>
<path d="M296.2 30.23L297.82 27.38L294.57 27.38Z" fill="#4a2c12"/>
<text x="300.2" y="30.35" font-size="4.9" font-weight="normal" text-anchor="start" fill="#000" stroke="#111" stroke-width="0.22">BM203</text>
</g>
<g>
<text x="396.3" y="10.2" font-size="12.3" font-weight="normal" text-anchor="start" fill="#000" stroke="#000" stroke-width="0.3">D</text>
<text x="436.9" y="5.8" font-size="7.8" font-weight="normal" text-anchor="start" fill="#000" stroke="#000" stroke-width="0.22">Group 4</text>
<text x="407" y="51.6" font-size="4.9" font-weight="bold" text-anchor="middle" fill="#000" transform="rotate(-90 407 51.6)" stroke="#000" stroke-width="0.38">Half max IgG titers</text>
<path d="M425.6 16.6V88.8H518" fill="none" stroke="#000" stroke-width="0.7"/>
<path d="M424.2 88.8H425.6" stroke="#000" stroke-width="0.6"/>
<text x="423.7" y="91" font-size="4.75" font-weight="normal" text-anchor="end" fill="#000" stroke="#000" stroke-width="0.46">0</text>
<path d="M424.2 81.61H425.6" stroke="#000" stroke-width="0.6"/>
<text x="423.7" y="83.81" font-size="4.75" font-weight="normal" text-anchor="end" fill="#000" stroke="#000" stroke-width="0.46">2000</text>
<path d="M424.2 74.42H425.6" stroke="#000" stroke-width="0.6"/>
<text x="423.7" y="76.62" font-size="4.75" font-weight="normal" text-anchor="end" fill="#000" stroke="#000" stroke-width="0.46">4000</text>
<path d="M424.2 67.23H425.6" stroke="#000" stroke-width="0.6"/>
<text x="423.7" y="69.43" font-size="4.75" font-weight="normal" text-anchor="end" fill="#000" stroke="#000" stroke-width="0.46">6000</text>
<path d="M424.2 60.04H425.6" stroke="#000" stroke-width="0.6"/>
<text x="423.7" y="62.24" font-size="4.75" font-weight="normal" text-anchor="end" fill="#000" stroke="#000" stroke-width="0.46">8000</text>
<path d="M424.2 52.85H425.6" stroke="#000" stroke-width="0.6"/>
<text x="423.7" y="55.05" font-size="4.75" font-weight="normal" text-anchor="end" fill="#000" stroke="#000" stroke-width="0.46">10000</text>
<path d="M424.2 45.66H425.6" stroke="#000" stroke-width="0.6"/>
<text x="423.7" y="47.86" font-size="4.75" font-weight="normal" text-anchor="end" fill="#000" stroke="#000" stroke-width="0.46">12000</text>
<path d="M424.2 38.47H425.6" stroke="#000" stroke-width="0.6"/>
<text x="423.7" y="40.67" font-size="4.75" font-weight="normal" text-anchor="end" fill="#000" stroke="#000" stroke-width="0.46">14000</text>
<path d="M424.2 31.28H425.6" stroke="#000" stroke-width="0.6"/>
<text x="423.7" y="33.48" font-size="4.75" font-weight="normal" text-anchor="end" fill="#000" stroke="#000" stroke-width="0.46">16000</text>
<path d="M424.2 24.09H425.6" stroke="#000" stroke-width="0.6"/>
<text x="423.7" y="26.29" font-size="4.75" font-weight="normal" text-anchor="end" fill="#000" stroke="#000" stroke-width="0.46">18000</text>
<path d="M424.2 16.9H425.6" stroke="#000" stroke-width="0.6"/>
<text x="423.7" y="19.1" font-size="4.75" font-weight="normal" text-anchor="end" fill="#000" stroke="#000" stroke-width="0.46">20000</text>
<path d="M425.6 88.8V90.1" stroke="#000" stroke-width="0.6"/>
<text x="427.5" y="90.8" font-size="4.7" font-weight="normal" text-anchor="end" fill="#000" transform="rotate(-90 427.5 90.8)" stroke="#000" stroke-width="0.38">0</text>
<path d="M432.96 88.8V90.1" stroke="#000" stroke-width="0.6"/>
<text x="434.86" y="90.8" font-size="4.7" font-weight="normal" text-anchor="end" fill="#000" transform="rotate(-90 434.86 90.8)" stroke="#000" stroke-width="0.38">14</text>
<path d="M440.32 88.8V90.1" stroke="#000" stroke-width="0.6"/>
<text x="442.22" y="90.8" font-size="4.7" font-weight="normal" text-anchor="end" fill="#000" transform="rotate(-90 442.22 90.8)" stroke="#000" stroke-width="0.38">28</text>
<path d="M447.68 88.8V90.1" stroke="#000" stroke-width="0.6"/>
<text x="449.58" y="90.8" font-size="4.7" font-weight="normal" text-anchor="end" fill="#000" transform="rotate(-90 449.58 90.8)" stroke="#000" stroke-width="0.38">42</text>
<path d="M455.04 88.8V90.1" stroke="#000" stroke-width="0.6"/>
<text x="456.94" y="90.8" font-size="4.7" font-weight="normal" text-anchor="end" fill="#000" transform="rotate(-90 456.94 90.8)" stroke="#000" stroke-width="0.38">56</text>
<path d="M462.4 88.8V90.1" stroke="#000" stroke-width="0.6"/>
<text x="464.3" y="90.8" font-size="4.7" font-weight="normal" text-anchor="end" fill="#000" transform="rotate(-90 464.3 90.8)" stroke="#000" stroke-width="0.38">70</text>
<path d="M466.08 88.8V90.1" stroke="#000" stroke-width="0.6"/>
<text x="467.98" y="90.8" font-size="4.7" font-weight="normal" text-anchor="end" fill="#000" transform="rotate(-90 467.98 90.8)" stroke="#000" stroke-width="0.38">77</text>
<path d="M473.44 88.8V90.1" stroke="#000" stroke-width="0.6"/>
<text x="475.34" y="90.8" font-size="4.7" font-weight="normal" text-anchor="end" fill="#000" transform="rotate(-90 475.34 90.8)" stroke="#000" stroke-width="0.38">91</text>
<path d="M480.8 88.8V90.1" stroke="#000" stroke-width="0.6"/>
<text x="482.7" y="90.8" font-size="4.7" font-weight="normal" text-anchor="end" fill="#000" transform="rotate(-90 482.7 90.8)" stroke="#000" stroke-width="0.38">105</text>
<path d="M488.16 88.8V90.1" stroke="#000" stroke-width="0.6"/>
<text x="490.06" y="90.8" font-size="4.7" font-weight="normal" text-anchor="end" fill="#000" transform="rotate(-90 490.06 90.8)" stroke="#000" stroke-width="0.38">119</text>
<path d="M495.52 88.8V90.1" stroke="#000" stroke-width="0.6"/>
<text x="497.42" y="90.8" font-size="4.7" font-weight="normal" text-anchor="end" fill="#000" transform="rotate(-90 497.42 90.8)" stroke="#000" stroke-width="0.38">133</text>
<path d="M502.88 88.8V90.1" stroke="#000" stroke-width="0.6"/>
<text x="504.78" y="90.8" font-size="4.7" font-weight="normal" text-anchor="end" fill="#000" transform="rotate(-90 504.78 90.8)" stroke="#000" stroke-width="0.38">147</text>
<path d="M510.24 88.8V90.1" stroke="#000" stroke-width="0.6"/>
<text x="512.14" y="90.8" font-size="4.7" font-weight="normal" text-anchor="end" fill="#000" transform="rotate(-90 512.14 90.8)" stroke="#000" stroke-width="0.38">161</text>
<path d="M517.6 88.8V90.1" stroke="#000" stroke-width="0.6"/>
<text x="519.5" y="90.8" font-size="4.7" font-weight="normal" text-anchor="end" fill="#000" transform="rotate(-90 519.5 90.8)" stroke="#000" stroke-width="0.38">175</text>
<path d="M425.6 97.6V104.2" stroke="#777" stroke-width="1.5"/>
<path d="M425.6 97.3V99.2" stroke="#333" stroke-width="1.4"/>
<path d="M440.32 97.8V104.5" stroke="#000" stroke-width="0.85"/>
<path d="M439.32 99L440.32 97L441.32 99Z" fill="#000"/>
<path d="M455.04 97.8V104.5" stroke="#000" stroke-width="0.85"/>
<path d="M454.04 99L455.04 97L456.04 99Z" fill="#000"/>
<text x="471.9" y="113.1" font-size="4.9" font-weight="bold" text-anchor="middle" fill="#000" stroke="#000" stroke-width="0.34">Days after immunization</text>
<circle cx="425.6" cy="88.8" r="1" fill="#222222"/>
<rect x="424.7" y="87.9" width="1.8" height="1.8" fill="#8a8a8a"/>
<path d="M425.6 88.8 L432.96 88.8 L440.32 87.9 L447.68 87.9 L455.04 87.9 L462.4 87.9 L466.08 88.62 L473.44 88.8 L480.8 88.8 L488.16 88.8 L495.52 88.8 L502.88 88.8 L510.24 88.8 L517.6 88.8" fill="none" stroke="#c8c8c8" stroke-width="0.95" stroke-linejoin="round"/>
<circle cx="425.6" cy="88.8" r="1" fill="#b8b8b8"/>
<circle cx="432.96" cy="88.8" r="1" fill="#b8b8b8"/>
<circle cx="440.32" cy="87.9" r="1" fill="#b8b8b8"/>
<circle cx="447.68" cy="87.9" r="1" fill="#b8b8b8"/>
<circle cx="455.04" cy="87.9" r="1" fill="#b8b8b8"/>
<circle cx="462.4" cy="87.9" r="1" fill="#b8b8b8"/>
<circle cx="466.08" cy="88.62" r="1" fill="#b8b8b8"/>
<circle cx="473.44" cy="88.8" r="1" fill="#b8b8b8"/>
<circle cx="480.8" cy="88.8" r="1" fill="#b8b8b8"/>
<circle cx="488.16" cy="88.8" r="1" fill="#b8b8b8"/>
<circle cx="495.52" cy="88.8" r="1" fill="#b8b8b8"/>
<circle cx="502.88" cy="88.8" r="1" fill="#b8b8b8"/>
<circle cx="510.24" cy="88.8" r="1" fill="#b8b8b8"/>
<circle cx="517.6" cy="88.8" r="1" fill="#b8b8b8"/>
<circle cx="429.9" cy="19.5" r="1.3" fill="#b8b8b8"/>
<text x="434" y="21.25" font-size="4.9" font-weight="normal" text-anchor="start" fill="#000" stroke="#111" stroke-width="0.22">BM156</text>
<rect x="428.73" y="23.83" width="2.34" height="2.34" fill="#8a8a8a"/>
<text x="434" y="26.75" font-size="4.9" font-weight="normal" text-anchor="start" fill="#000" stroke="#111" stroke-width="0.22">BM163</text>
<circle cx="429.9" cy="30.5" r="1.3" fill="#222222"/>
<text x="434" y="32.25" font-size="4.9" font-weight="normal" text-anchor="start" fill="#000" stroke="#111" stroke-width="0.22">BM189</text>
</g>
<g>
<text x="1.3" y="145.3" font-size="12.3" font-weight="normal" text-anchor="start" fill="#000" stroke="#000" stroke-width="0.3">E</text>
<text x="34.1" y="143.6" font-size="7.8" font-weight="normal" text-anchor="start" fill="#000" stroke="#000" stroke-width="0.22">Group 5</text>
<text x="6.3" y="191.5" font-size="4.9" font-weight="bold" text-anchor="middle" fill="#000" transform="rotate(-90 6.3 191.5)" stroke="#000" stroke-width="0.38">Half max IgG titers</text>
<path d="M24.5 155.7V229.2H125.26" fill="none" stroke="#000" stroke-width="0.7"/>
<path d="M23.1 229.2H24.5" stroke="#000" stroke-width="0.6"/>
<text x="23.2" y="231.4" font-size="4.75" font-weight="normal" text-anchor="end" fill="#000" stroke="#000" stroke-width="0.46">0</text>
<path d="M23.1 220.05H24.5" stroke="#000" stroke-width="0.6"/>
<text x="23.2" y="222.25" font-size="4.75" font-weight="normal" text-anchor="end" fill="#000" stroke="#000" stroke-width="0.46">5000</text>
<path d="M23.1 210.9H24.5" stroke="#000" stroke-width="0.6"/>
<text x="23.2" y="213.1" font-size="4.75" font-weight="normal" text-anchor="end" fill="#000" stroke="#000" stroke-width="0.46">10000</text>
<path d="M23.1 201.75H24.5" stroke="#000" stroke-width="0.6"/>
<text x="23.2" y="203.95" font-size="4.75" font-weight="normal" text-anchor="end" fill="#000" stroke="#000" stroke-width="0.46">15000</text>
<path d="M23.1 192.6H24.5" stroke="#000" stroke-width="0.6"/>
<text x="23.2" y="194.8" font-size="4.75" font-weight="normal" text-anchor="end" fill="#000" stroke="#000" stroke-width="0.46">20000</text>
<path d="M23.1 183.45H24.5" stroke="#000" stroke-width="0.6"/>
<text x="23.2" y="185.65" font-size="4.75" font-weight="normal" text-anchor="end" fill="#000" stroke="#000" stroke-width="0.46">25000</text>
<path d="M23.1 174.3H24.5" stroke="#000" stroke-width="0.6"/>
<text x="23.2" y="176.5" font-size="4.75" font-weight="normal" text-anchor="end" fill="#000" stroke="#000" stroke-width="0.46">30000</text>
<path d="M23.1 165.15H24.5" stroke="#000" stroke-width="0.6"/>
<text x="23.2" y="167.35" font-size="4.75" font-weight="normal" text-anchor="end" fill="#000" stroke="#000" stroke-width="0.46">35000</text>
<path d="M23.1 156H24.5" stroke="#000" stroke-width="0.6"/>
<text x="23.2" y="158.2" font-size="4.75" font-weight="normal" text-anchor="end" fill="#000" stroke="#000" stroke-width="0.46">40000</text>
<path d="M24.5 229.2V230.5" stroke="#000" stroke-width="0.6"/>
<text x="25.95" y="231.4" font-size="3.8" font-weight="normal" text-anchor="end" fill="#000" transform="rotate(-90 25.95 231.4)" stroke="#000" stroke-width="0.3">0</text>
<path d="M32.53 229.2V230.5" stroke="#000" stroke-width="0.6"/>
<text x="33.98" y="231.4" font-size="3.8" font-weight="normal" text-anchor="end" fill="#000" transform="rotate(-90 33.98 231.4)" stroke="#000" stroke-width="0.3">14</text>
<path d="M40.56 229.2V230.5" stroke="#000" stroke-width="0.6"/>
<text x="42.01" y="231.4" font-size="3.8" font-weight="normal" text-anchor="end" fill="#000" transform="rotate(-90 42.01 231.4)" stroke="#000" stroke-width="0.3">28</text>
<path d="M48.59 229.2V230.5" stroke="#000" stroke-width="0.6"/>
<text x="50.04" y="231.4" font-size="3.8" font-weight="normal" text-anchor="end" fill="#000" transform="rotate(-90 50.04 231.4)" stroke="#000" stroke-width="0.3">42</text>
<path d="M56.62 229.2V230.5" stroke="#000" stroke-width="0.6"/>
<text x="58.07" y="231.4" font-size="3.8" font-weight="normal" text-anchor="end" fill="#000" transform="rotate(-90 58.07 231.4)" stroke="#000" stroke-width="0.3">56</text>
<path d="M64.65 229.2V230.5" stroke="#000" stroke-width="0.6"/>
<text x="66.1" y="231.4" font-size="3.8" font-weight="normal" text-anchor="end" fill="#000" transform="rotate(-90 66.1 231.4)" stroke="#000" stroke-width="0.3">70</text>
<path d="M68.66 229.2V230.5" stroke="#000" stroke-width="0.6"/>
<text x="70.11" y="231.4" font-size="3.8" font-weight="normal" text-anchor="end" fill="#000" transform="rotate(-90 70.11 231.4)" stroke="#000" stroke-width="0.3">77</text>
<path d="M76.69 229.2V230.5" stroke="#000" stroke-width="0.6"/>
<text x="78.14" y="231.4" font-size="3.8" font-weight="normal" text-anchor="end" fill="#000" transform="rotate(-90 78.14 231.4)" stroke="#000" stroke-width="0.3">91</text>
<path d="M84.72 229.2V230.5" stroke="#000" stroke-width="0.6"/>
<text x="86.17" y="231.4" font-size="3.8" font-weight="normal" text-anchor="end" fill="#000" transform="rotate(-90 86.17 231.4)" stroke="#000" stroke-width="0.3">105</text>
<path d="M92.75 229.2V230.5" stroke="#000" stroke-width="0.6"/>
<text x="94.2" y="231.4" font-size="3.8" font-weight="normal" text-anchor="end" fill="#000" transform="rotate(-90 94.2 231.4)" stroke="#000" stroke-width="0.3">119</text>
<path d="M100.78 229.2V230.5" stroke="#000" stroke-width="0.6"/>
<text x="102.23" y="231.4" font-size="3.8" font-weight="normal" text-anchor="end" fill="#000" transform="rotate(-90 102.23 231.4)" stroke="#000" stroke-width="0.3">133</text>
<path d="M108.8 229.2V230.5" stroke="#000" stroke-width="0.6"/>
<text x="110.25" y="231.4" font-size="3.8" font-weight="normal" text-anchor="end" fill="#000" transform="rotate(-90 110.25 231.4)" stroke="#000" stroke-width="0.3">147</text>
<path d="M116.83 229.2V230.5" stroke="#000" stroke-width="0.6"/>
<text x="118.28" y="231.4" font-size="3.8" font-weight="normal" text-anchor="end" fill="#000" transform="rotate(-90 118.28 231.4)" stroke="#000" stroke-width="0.3">161</text>
<path d="M124.86 229.2V230.5" stroke="#000" stroke-width="0.6"/>
<text x="126.31" y="231.4" font-size="3.8" font-weight="normal" text-anchor="end" fill="#000" transform="rotate(-90 126.31 231.4)" stroke="#000" stroke-width="0.3">175</text>
<path d="M25.8 238.6V245.4" stroke="#777" stroke-width="1.5"/>
<path d="M25.8 238.3V240.2" stroke="#333" stroke-width="1.4"/>
<path d="M40.4 238.8V245.7" stroke="#000" stroke-width="0.85"/>
<path d="M39.4 240L40.4 238L41.4 240Z" fill="#000"/>
<path d="M55.6 238.8V245.7" stroke="#000" stroke-width="0.85"/>
<path d="M54.6 240L55.6 238L56.6 240Z" fill="#000"/>
<text x="74.98" y="253.5" font-size="4.9" font-weight="bold" text-anchor="middle" fill="#000" stroke="#000" stroke-width="0.34">Days after immunization</text>
<path d="M24.5 229.2 L32.53 226.45 L40.56 225.36 L48.59 205.78 L56.62 210.72 L64.65 203.21 L68.66 209.8 L76.69 210.72 L84.72 213.46 L92.75 216.76 L100.78 219.68" fill="none" stroke="#2c5a2c" stroke-width="0.95" stroke-linejoin="round"/>
<circle cx="24.5" cy="229.2" r="1.4" fill="#163c16"/>
<circle cx="32.53" cy="226.45" r="1.4" fill="#163c16"/>
<circle cx="40.56" cy="225.36" r="1.4" fill="#163c16"/>
<circle cx="48.59" cy="205.78" r="1.4" fill="#163c16"/>
<circle cx="56.62" cy="210.72" r="1.4" fill="#163c16"/>
<circle cx="64.65" cy="203.21" r="1.4" fill="#163c16"/>
<circle cx="68.66" cy="209.8" r="1.4" fill="#163c16"/>
<circle cx="76.69" cy="210.72" r="1.4" fill="#163c16"/>
<circle cx="84.72" cy="213.46" r="1.4" fill="#163c16"/>
<circle cx="92.75" cy="216.76" r="1.4" fill="#163c16"/>
<circle cx="100.78" cy="219.68" r="1.4" fill="#163c16"/>
<path d="M24.5 229.2 L32.53 225.54 L40.56 223.34 L48.59 195.53 L56.62 206.14 L64.65 164.05 L68.66 178.69 L76.69 175.4 L84.72 182.35 L92.75 183.82 L100.78 206.69" fill="none" stroke="#48d848" stroke-width="0.95" stroke-linejoin="round"/>
<rect x="23.2" y="227.89" width="2.61" height="2.61" fill="#2cb82c"/>
<rect x="31.22" y="224.23" width="2.61" height="2.61" fill="#2cb82c"/>
<rect x="39.25" y="222.04" width="2.61" height="2.61" fill="#2cb82c"/>
<rect x="47.28" y="194.22" width="2.61" height="2.61" fill="#2cb82c"/>
<rect x="55.31" y="204.84" width="2.61" height="2.61" fill="#2cb82c"/>
<rect x="63.34" y="162.75" width="2.61" height="2.61" fill="#2cb82c"/>
<rect x="67.35" y="177.39" width="2.61" height="2.61" fill="#2cb82c"/>
<rect x="75.38" y="174.09" width="2.61" height="2.61" fill="#2cb82c"/>
<rect x="83.41" y="181.05" width="2.61" height="2.61" fill="#2cb82c"/>
<rect x="91.44" y="182.51" width="2.61" height="2.61" fill="#2cb82c"/>
<rect x="99.47" y="205.39" width="2.61" height="2.61" fill="#2cb82c"/>
<path d="M24.5 229.2 L32.53 225.72 L40.56 226.82 L48.59 220.05 L56.62 222.06 L64.65 211.27 L68.66 211.63 L76.69 213.64 L84.72 214.56 L92.75 215.84 L100.78 223.53" fill="none" stroke="#e2ec88" stroke-width="0.95" stroke-linejoin="round"/>
<path d="M24.5 227.57L26.12 230.42L22.88 230.42Z" fill="#d2e070"/>
<path d="M32.53 224.1L34.15 226.94L30.9 226.94Z" fill="#d2e070"/>
<path d="M40.56 225.2L42.18 228.04L38.93 228.04Z" fill="#d2e070"/>
<path d="M48.59 218.42L50.21 221.27L46.96 221.27Z" fill="#d2e070"/>
<path d="M56.62 220.44L58.24 223.28L54.99 223.28Z" fill="#d2e070"/>
<path d="M64.65 209.64L66.27 212.48L63.02 212.48Z" fill="#d2e070"/>
<path d="M68.66 210.01L70.28 212.85L67.03 212.85Z" fill="#d2e070"/>
<path d="M76.69 212.02L78.31 214.86L75.06 214.86Z" fill="#d2e070"/>
<path d="M84.72 212.94L86.34 215.78L83.09 215.78Z" fill="#d2e070"/>
<path d="M92.75 214.22L94.37 217.06L91.12 217.06Z" fill="#d2e070"/>
<path d="M100.78 221.9L102.4 224.75L99.15 224.75Z" fill="#d2e070"/>
<path d="M29.8 157.07L31.43 159.92L28.18 159.92Z" fill="#d2e070"/>
<text x="34.5" y="160.45" font-size="4.9" font-weight="normal" text-anchor="start" fill="#000" stroke="#111" stroke-width="0.22">SN045</text>
<rect x="28.63" y="162.53" width="2.34" height="2.34" fill="#2cb82c"/>
<text x="34.5" y="165.45" font-size="4.9" font-weight="normal" text-anchor="start" fill="#000" stroke="#111" stroke-width="0.22">SN047</text>
<circle cx="29.8" cy="168.6" r="1.3" fill="#163c16"/>
<text x="34.5" y="170.35" font-size="4.9" font-weight="normal" text-anchor="start" fill="#000" stroke="#111" stroke-width="0.22">SN048</text>
</g>
<g>
<text x="131.3" y="145.3" font-size="12.3" font-weight="normal" text-anchor="start" fill="#000" stroke="#000" stroke-width="0.3">F</text>
<text x="170.1" y="143.6" font-size="7.8" font-weight="normal" text-anchor="start" fill="#000" stroke="#000" stroke-width="0.22">Group 6</text>
<text x="139.1" y="191.5" font-size="4.9" font-weight="bold" text-anchor="middle" fill="#000" transform="rotate(-90 139.1 191.5)" stroke="#000" stroke-width="0.38">Half max IgG titers</text>
<path d="M157.4 156.9V229.2H250.31" fill="none" stroke="#000" stroke-width="0.7"/>
<path d="M156 229.2H157.4" stroke="#000" stroke-width="0.6"/>
<text x="155.8" y="231.4" font-size="4.75" font-weight="normal" text-anchor="end" fill="#000" stroke="#000" stroke-width="0.46">0</text>
<path d="M156 220.2H157.4" stroke="#000" stroke-width="0.6"/>
<text x="155.8" y="222.4" font-size="4.75" font-weight="normal" text-anchor="end" fill="#000" stroke="#000" stroke-width="0.46">5000</text>
<path d="M156 211.2H157.4" stroke="#000" stroke-width="0.6"/>
<text x="155.8" y="213.4" font-size="4.75" font-weight="normal" text-anchor="end" fill="#000" stroke="#000" stroke-width="0.46">10000</text>
<path d="M156 202.2H157.4" stroke="#000" stroke-width="0.6"/>
<text x="155.8" y="204.4" font-size="4.75" font-weight="normal" text-anchor="end" fill="#000" stroke="#000" stroke-width="0.46">15000</text>
<path d="M156 193.2H157.4" stroke="#000" stroke-width="0.6"/>
<text x="155.8" y="195.4" font-size="4.75" font-weight="normal" text-anchor="end" fill="#000" stroke="#000" stroke-width="0.46">20000</text>
<path d="M156 184.2H157.4" stroke="#000" stroke-width="0.6"/>
<text x="155.8" y="186.4" font-size="4.75" font-weight="normal" text-anchor="end" fill="#000" stroke="#000" stroke-width="0.46">25000</text>
<path d="M156 175.2H157.4" stroke="#000" stroke-width="0.6"/>
<text x="155.8" y="177.4" font-size="4.75" font-weight="normal" text-anchor="end" fill="#000" stroke="#000" stroke-width="0.46">30000</text>
<path d="M156 166.2H157.4" stroke="#000" stroke-width="0.6"/>
<text x="155.8" y="168.4" font-size="4.75" font-weight="normal" text-anchor="end" fill="#000" stroke="#000" stroke-width="0.46">35000</text>
<path d="M156 157.2H157.4" stroke="#000" stroke-width="0.6"/>
<text x="155.8" y="159.4" font-size="4.75" font-weight="normal" text-anchor="end" fill="#000" stroke="#000" stroke-width="0.46">40000</text>
<path d="M157.4 229.2V230.5" stroke="#000" stroke-width="0.6"/>
<text x="158.85" y="231.4" font-size="3.8" font-weight="normal" text-anchor="end" fill="#000" transform="rotate(-90 158.85 231.4)" stroke="#000" stroke-width="0.3">0</text>
<path d="M164.8 229.2V230.5" stroke="#000" stroke-width="0.6"/>
<text x="166.25" y="231.4" font-size="3.8" font-weight="normal" text-anchor="end" fill="#000" transform="rotate(-90 166.25 231.4)" stroke="#000" stroke-width="0.3">14</text>
<path d="M172.2 229.2V230.5" stroke="#000" stroke-width="0.6"/>
<text x="173.65" y="231.4" font-size="3.8" font-weight="normal" text-anchor="end" fill="#000" transform="rotate(-90 173.65 231.4)" stroke="#000" stroke-width="0.3">28</text>
<path d="M179.6 229.2V230.5" stroke="#000" stroke-width="0.6"/>
<text x="181.05" y="231.4" font-size="3.8" font-weight="normal" text-anchor="end" fill="#000" transform="rotate(-90 181.05 231.4)" stroke="#000" stroke-width="0.3">42</text>
<path d="M187 229.2V230.5" stroke="#000" stroke-width="0.6"/>
<text x="188.45" y="231.4" font-size="3.8" font-weight="normal" text-anchor="end" fill="#000" transform="rotate(-90 188.45 231.4)" stroke="#000" stroke-width="0.3">56</text>
<path d="M194.4 229.2V230.5" stroke="#000" stroke-width="0.6"/>
<text x="195.85" y="231.4" font-size="3.8" font-weight="normal" text-anchor="end" fill="#000" transform="rotate(-90 195.85 231.4)" stroke="#000" stroke-width="0.3">70</text>
<path d="M198.1 229.2V230.5" stroke="#000" stroke-width="0.6"/>
<text x="199.55" y="231.4" font-size="3.8" font-weight="normal" text-anchor="end" fill="#000" transform="rotate(-90 199.55 231.4)" stroke="#000" stroke-width="0.3">77</text>
<path d="M205.5 229.2V230.5" stroke="#000" stroke-width="0.6"/>
<text x="206.95" y="231.4" font-size="3.8" font-weight="normal" text-anchor="end" fill="#000" transform="rotate(-90 206.95 231.4)" stroke="#000" stroke-width="0.3">91</text>
<path d="M212.9 229.2V230.5" stroke="#000" stroke-width="0.6"/>
<text x="214.35" y="231.4" font-size="3.8" font-weight="normal" text-anchor="end" fill="#000" transform="rotate(-90 214.35 231.4)" stroke="#000" stroke-width="0.3">105</text>
<path d="M220.3 229.2V230.5" stroke="#000" stroke-width="0.6"/>
<text x="221.75" y="231.4" font-size="3.8" font-weight="normal" text-anchor="end" fill="#000" transform="rotate(-90 221.75 231.4)" stroke="#000" stroke-width="0.3">119</text>
<path d="M227.7 229.2V230.5" stroke="#000" stroke-width="0.6"/>
<text x="229.15" y="231.4" font-size="3.8" font-weight="normal" text-anchor="end" fill="#000" transform="rotate(-90 229.15 231.4)" stroke="#000" stroke-width="0.3">133</text>
<path d="M235.1 229.2V230.5" stroke="#000" stroke-width="0.6"/>
<text x="236.55" y="231.4" font-size="3.8" font-weight="normal" text-anchor="end" fill="#000" transform="rotate(-90 236.55 231.4)" stroke="#000" stroke-width="0.3">147</text>
<path d="M242.5 229.2V230.5" stroke="#000" stroke-width="0.6"/>
<text x="243.95" y="231.4" font-size="3.8" font-weight="normal" text-anchor="end" fill="#000" transform="rotate(-90 243.95 231.4)" stroke="#000" stroke-width="0.3">161</text>
<path d="M249.91 229.2V230.5" stroke="#000" stroke-width="0.6"/>
<text x="251.35" y="231.4" font-size="3.8" font-weight="normal" text-anchor="end" fill="#000" transform="rotate(-90 251.35 231.4)" stroke="#000" stroke-width="0.3">175</text>
<path d="M157.8 238.6V245.4" stroke="#777" stroke-width="1.5"/>
<path d="M157.8 238.3V240.2" stroke="#333" stroke-width="1.4"/>
<path d="M172.2 238.8V245.7" stroke="#000" stroke-width="0.85"/>
<path d="M171.2 240L172.2 238L173.2 240Z" fill="#000"/>
<path d="M187.2 238.8V245.7" stroke="#000" stroke-width="0.85"/>
<path d="M186.2 240L187.2 238L188.2 240Z" fill="#000"/>
<text x="203.95" y="253.5" font-size="4.9" font-weight="bold" text-anchor="middle" fill="#000" stroke="#000" stroke-width="0.34">Days after immunization</text>
<path d="M157.4 229.2 L164.8 219.12 L172.2 223.44 L179.6 210.66 L187 220.02 L194.4 216.78 L198.1 222.36 L205.5 210.12 L216.6 224.34 L220.83 225.24 L227.7 225.96" fill="none" stroke="#782030" stroke-width="0.95" stroke-linejoin="round"/>
<path d="M157.4 230.89L159.09 227.93L155.71 227.93Z" fill="#560a1a"/>
<path d="M164.8 220.81L166.49 217.85L163.11 217.85Z" fill="#560a1a"/>
<path d="M172.2 225.13L173.89 222.17L170.51 222.17Z" fill="#560a1a"/>
<path d="M179.6 212.35L181.29 209.39L177.91 209.39Z" fill="#560a1a"/>
<path d="M187 221.71L188.69 218.75L185.31 218.75Z" fill="#560a1a"/>
<path d="M194.4 218.47L196.09 215.51L192.71 215.51Z" fill="#560a1a"/>
<path d="M198.1 224.05L199.79 221.09L196.41 221.09Z" fill="#560a1a"/>
<path d="M205.5 211.81L207.19 208.85L203.82 208.85Z" fill="#560a1a"/>
<path d="M216.6 226.03L218.29 223.07L214.92 223.07Z" fill="#560a1a"/>
<path d="M220.83 226.93L222.52 223.97L219.14 223.97Z" fill="#560a1a"/>
<path d="M227.7 227.65L229.39 224.69L226.02 224.69Z" fill="#560a1a"/>
<path d="M157.4 229.2 L164.8 228.3 L172.2 226.86 L179.6 220.02 L187 223.44 L194.4 221.28 L198.1 222.9 L205.5 227.22 L216.6 227.4 L220.83 227.4 L227.7 226.14" fill="none" stroke="#e23a52" stroke-width="0.95" stroke-linejoin="round"/>
<rect x="156.09" y="227.89" width="2.61" height="2.61" fill="#c81430"/>
<rect x="163.5" y="226.99" width="2.61" height="2.61" fill="#c81430"/>
<rect x="170.9" y="225.55" width="2.61" height="2.61" fill="#c81430"/>
<rect x="178.3" y="218.71" width="2.61" height="2.61" fill="#c81430"/>
<rect x="185.7" y="222.13" width="2.61" height="2.61" fill="#c81430"/>
<rect x="193.1" y="219.97" width="2.61" height="2.61" fill="#c81430"/>
<rect x="196.8" y="221.59" width="2.61" height="2.61" fill="#c81430"/>
<rect x="204.2" y="225.91" width="2.61" height="2.61" fill="#c81430"/>
<rect x="215.3" y="226.09" width="2.61" height="2.61" fill="#c81430"/>
<rect x="219.53" y="226.09" width="2.61" height="2.61" fill="#c81430"/>
<rect x="226.4" y="224.83" width="2.61" height="2.61" fill="#c81430"/>
<path d="M157.4 229.2 L164.8 218.4 L172.2 216.78 L179.6 201.12 L187 185.46 L194.4 195 L198.1 203.28 L205.5 209.94 L216.6 221.82 L220.83 222.72 L227.7 226.5" fill="none" stroke="#ee909c" stroke-width="0.95" stroke-linejoin="round"/>
<path d="M157.4 227.64L158.96 229.2L157.4 230.76L155.84 229.2Z" fill="#e06a7c"/>
<path d="M164.8 216.84L166.36 218.4L164.8 219.96L163.24 218.4Z" fill="#e06a7c"/>
<path d="M172.2 215.22L173.76 216.78L172.2 218.34L170.64 216.78Z" fill="#e06a7c"/>
<path d="M179.6 199.56L181.16 201.12L179.6 202.68L178.04 201.12Z" fill="#e06a7c"/>
<path d="M187 183.9L188.56 185.46L187 187.02L185.44 185.46Z" fill="#e06a7c"/>
<path d="M194.4 193.44L195.96 195L194.4 196.56L192.84 195Z" fill="#e06a7c"/>
<path d="M198.1 201.72L199.66 203.28L198.1 204.84L196.54 203.28Z" fill="#e06a7c"/>
<path d="M205.5 208.38L207.06 209.94L205.5 211.5L203.94 209.94Z" fill="#e06a7c"/>
<path d="M216.6 220.26L218.16 221.82L216.6 223.38L215.04 221.82Z" fill="#e06a7c"/>
<path d="M220.83 221.16L222.39 222.72L220.83 224.28L219.27 222.72Z" fill="#e06a7c"/>
<path d="M227.7 224.94L229.26 226.5L227.7 228.06L226.14 226.5Z" fill="#e06a7c"/>
<path d="M162.7 158.94L164.26 160.5L162.7 162.06L161.14 160.5Z" fill="#e06a7c"/>
<text x="166.8" y="162.25" font-size="4.9" font-weight="normal" text-anchor="start" fill="#000" stroke="#111" stroke-width="0.22">SN096</text>
<rect x="161.53" y="164.03" width="2.34" height="2.34" fill="#c81430"/>
<text x="166.8" y="166.95" font-size="4.9" font-weight="normal" text-anchor="start" fill="#000" stroke="#111" stroke-width="0.22">SN101</text>
<path d="M162.7 171.62L164.32 168.78L161.07 168.78Z" fill="#560a1a"/>
<text x="166.8" y="171.75" font-size="4.9" font-weight="normal" text-anchor="start" fill="#000" stroke="#111" stroke-width="0.22">SN120</text>
</g>
</svg>
</body></html>
